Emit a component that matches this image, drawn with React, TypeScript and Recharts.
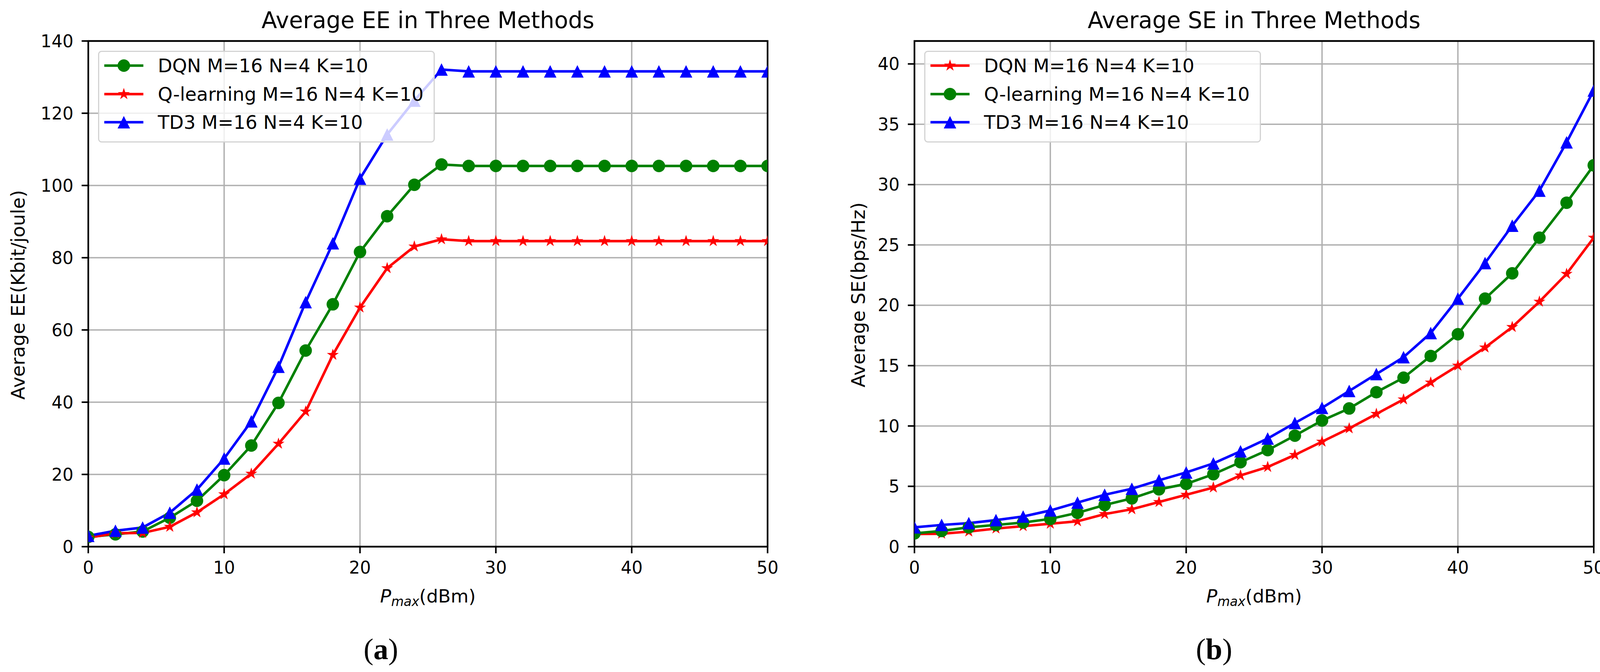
import React from "react";
import { LineChart, Line, XAxis, YAxis, CartesianGrid, ReferenceArea, Legend } from "recharts";

const pmax = [0, 2, 4, 6, 8, 10, 12, 14, 16, 18, 20, 22, 24, 26, 28, 30, 32, 34, 36, 38, 40, 42, 44, 46, 48, 50];
const xTicks = [0, 10, 20, 30, 40, 50];
const eeTicks = [0, 20, 40, 60, 80, 100, 120, 140];
const seTicks = [0, 5, 10, 15, 20, 25, 30, 35, 40];

// (a) average EE, Kbit/joule
const eeDqn = [2.7, 3.4, 4.2, 8.0, 12.7, 19.8, 28.0, 39.8, 54.3, 67.1, 81.6, 91.5, 100.2, 105.8, 105.4, 105.4, 105.4, 105.4, 105.4, 105.4, 105.4, 105.4, 105.4, 105.4, 105.4, 105.4];
const eeQLearning = [2.5, 3.7, 3.8, 5.5, 9.5, 14.5, 20.2, 28.5, 37.4, 53.1, 66.2, 77.1, 83.1, 85.1, 84.6, 84.6, 84.6, 84.6, 84.6, 84.6, 84.6, 84.6, 84.6, 84.6, 84.6, 84.6];
const eeTd3 = [3.0, 4.4, 5.3, 9.4, 15.8, 24.4, 34.7, 49.8, 67.7, 84.0, 101.9, 114.1, 123.5, 132.1, 131.6, 131.6, 131.6, 131.6, 131.6, 131.6, 131.6, 131.6, 131.6, 131.6, 131.6, 131.6];

// (b) average SE, bps/Hz
const seDqn = [1.05, 1.07, 1.25, 1.5, 1.7, 1.9, 2.1, 2.7, 3.1, 3.7, 4.3, 4.9, 5.9, 6.6, 7.6, 8.7, 9.8, 11.0, 12.2, 13.6, 15.0, 16.5, 18.2, 20.3, 22.6, 25.6];
const seQLearning = [1.1, 1.3, 1.6, 1.8, 2.0, 2.3, 2.8, 3.45, 4.0, 4.75, 5.2, 6.0, 7.0, 8.0, 9.2, 10.45, 11.45, 12.8, 14.0, 15.8, 17.6, 20.55, 22.65, 25.6, 28.5, 31.6];
const seTd3 = [1.6, 1.8, 1.95, 2.2, 2.5, 3.0, 3.65, 4.3, 4.8, 5.5, 6.15, 6.9, 7.9, 8.96, 10.25, 11.5, 12.9, 14.3, 15.7, 17.7, 20.55, 23.5, 26.6, 29.5, 33.5, 37.8];

const legendLabels = ["DQN M=16 N=4 K=10", "Q-learning M=16 N=4 K=10", "TD3 M=16 N=4 K=10"];

const GREEN = "#008000";
const RED = "#ff0000";
const BLUE = "#0000ff";
const FONT = "DejaVu Sans";
const LINE_W = 6.5;

const eeRows = pmax.map((p, i) => ({ p, dqn: eeDqn[i], ql: eeQLearning[i], td3: eeTd3[i] }));
const seRows = pmax.map((p, i) => ({ p, dqn: seDqn[i], ql: seQLearning[i], td3: seTd3[i] }));

const eeSeries = [
  { key: "dqn", name: legendLabels[0], color: GREEN, shape: "circle" },
  { key: "ql", name: legendLabels[1], color: RED, shape: "star" },
  { key: "td3", name: legendLabels[2], color: BLUE, shape: "triangle" },
];
const seSeries = [
  { key: "dqn", name: legendLabels[0], color: RED, shape: "star" },
  { key: "ql", name: legendLabels[1], color: GREEN, shape: "circle" },
  { key: "td3", name: legendLabels[2], color: BLUE, shape: "triangle" },
];

function Marker({ shape, cx, cy, color }: any) {
  if (shape === "circle") return <circle cx={cx} cy={cy} r={16} fill={color} />;
  if (shape === "triangle") {
    return <polygon points={`${cx},${cy - 16} ${cx - 16},${cy + 16} ${cx + 16},${cy + 16}`} fill={color} />;
  }
  const pts: string[] = [];
  for (let k = 0; k < 10; k++) {
    const r = k % 2 === 0 ? 16 : 6.1;
    const a = -Math.PI / 2 + (k * Math.PI) / 5;
    pts.push(`${cx + r * Math.cos(a)},${cy + r * Math.sin(a)}`);
  }
  return <polygon points={pts.join(" ")} fill={color} />;
}

function LegendBox({ series }: any) {
  return (
    <div
      style={{
        width: 862,
        height: 235,
        boxSizing: "border-box",
        border: "3px solid #d3d3d3",
        borderRadius: 9,
        background: "rgba(255,255,255,0.8)",
        position: "relative",
        fontFamily: FONT,
      }}
    >
      {series.map((s: any, i: number) => (
        <div
          key={s.key}
          style={{ position: "absolute", left: -3, top: 38 + i * 72.5 - 36 - 3, height: 72, display: "flex", alignItems: "center" }}
        >
          <svg width={153} height={72} style={{ display: "block" }}>
            <line x1={16} x2={116} y1={36} y2={36} stroke={s.color} strokeWidth={LINE_W} />
            <Marker shape={s.shape} cx={66} cy={36} color={s.color} />
          </svg>
          <span style={{ fontSize: 48, color: "#000", whiteSpace: "nowrap" }}>{s.name}</span>
        </div>
      ))}
    </div>
  );
}

function Panel({ left, rows, series, yMax, yTicks, yWidth, rightMargin, legendLeft, title, yLabel, caption, yLabelX }: any) {
  const plotCx = yWidth + (2069 - yWidth - rightMargin) / 2;
  const tickStyle = { fill: "#000", fontSize: 44, fontFamily: FONT };
  return (
    <div style={{ position: "absolute", left, top: 0, width: 2069, height: 1721 }}>
      <LineChart width={2069} height={1721} data={rows} margin={{ top: 105, right: rightMargin, bottom: 0, left: 0 }}>
        <CartesianGrid stroke="#b0b0b0" strokeWidth={3.5} />
        <XAxis
          type="number"
          dataKey="p"
          domain={[0, 50]}
          ticks={xTicks}
          allowDataOverflow
          height={321}
          axisLine={false}
          tickSize={17}
          tickMargin={21}
          tickLine={{ stroke: "#000", strokeWidth: 4 }}
          tick={tickStyle}
        />
        <YAxis
          type="number"
          domain={[0, yMax]}
          ticks={yTicks}
          allowDataOverflow
          width={yWidth}
          axisLine={false}
          tickSize={17}
          tickMargin={21}
          tickLine={{ stroke: "#000", strokeWidth: 4 }}
          tick={tickStyle}
        />
        {series.map((s: any) => (
          <Line
            key={s.key}
            type="linear"
            dataKey={s.key}
            name={s.name}
            stroke={s.color}
            strokeWidth={LINE_W}
            isAnimationActive={false}
            activeDot={false}
            dot={(props: any) => (
              <Marker key={`${s.key}-${props.index}`} shape={s.shape} cx={props.cx} cy={props.cy} color={s.color} />
            )}
          />
        ))}
        <ReferenceArea x1={0} x2={50} y1={0} y2={yMax} fill="none" stroke="#000" strokeWidth={4.3} ifOverflow="visible" />
        <Legend
          layout="vertical"
          align="center"
          verticalAlign="middle"
          wrapperStyle={{ position: "absolute", left: legendLeft, top: 130, width: 862, height: 235 }}
          content={() => <LegendBox series={series} />}
        />
      </LineChart>
      <svg
        width={2069}
        height={1721}
        style={{ position: "absolute", left: 0, top: 0, pointerEvents: "none" }}
        fontFamily={FONT}
      >
        <text x={plotCx} y={72} textAnchor="middle" fontSize={58} fill="#000">
          {title}
        </text>
        <text transform={`translate(${yLabelX},755) rotate(-90)`} textAnchor="middle" fontSize={48} fill="#000">
          {yLabel}
        </text>
        <text x={plotCx} y={1543} textAnchor="middle" fontSize={47} fill="#000">
          <tspan fontStyle="italic">P</tspan>
          <tspan fontStyle="italic" fontSize={33} dy={9}>max</tspan>
          <tspan dy={-9}>(dBm)</tspan>
        </text>
        <text x={caption.x} y={1688} textAnchor="middle" fontSize={76} fill="#000" fontFamily="Liberation Serif">
          <tspan>(</tspan>
          <tspan fontWeight="bold">{caption.text}</tspan>
          <tspan>)</tspan>
        </text>
      </svg>
    </div>
  );
}

export default function App() {
  return (
    <div style={{ position: "absolute", left: 0, top: 0, width: 4138, height: 1721, background: "#fff", overflow: "hidden" }}>
      <Panel
        left={0}
        rows={eeRows}
        series={eeSeries}
        yMax={140}
        yTicks={eeTicks}
        yWidth={226}
        rightMargin={104}
        legendLeft={251}
        title="Average EE in Three Methods"
        yLabel="Average EE(Kbit/joule)"
        yLabelX={63}
        caption={{ x: 975, text: "a" }}
      />
      <Panel
        left={2069}
        rows={seRows}
        series={seSeries}
        yMax={41.9}
        yTicks={seTicks}
        yWidth={272}
        rightMargin={58}
        legendLeft={297}
        title="Average SE in Three Methods"
        yLabel="Average SE(bps/Hz)"
        yLabelX={145}
        caption={{ x: 1039, text: "b" }}
      />
    </div>
  );
}
